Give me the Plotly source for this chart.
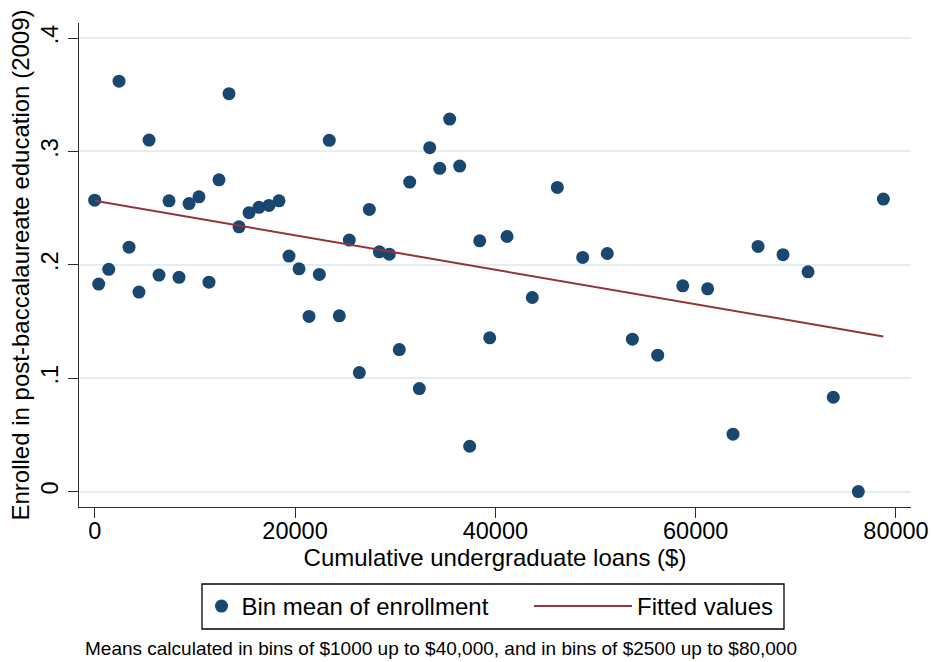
import plotly.graph_objects as go

# ---- data ----
loan_bin_mean = [0, 400, 1400, 2430, 3430, 4420, 5430, 6420, 7420, 8420,
                 9420, 10410, 11410, 12410, 13410, 14410, 15410, 16400, 17400, 18400,
                 19400, 20400, 21400, 22430, 23420, 24420, 25420, 26420, 27420, 28420,
                 29410, 30410, 31450, 32410, 33450, 34450, 35440, 36440, 37440, 38440,
                 39440, 41170, 43690, 46190, 48720, 51180, 53680, 56210, 58710, 61200,
                 63730, 66230, 68720, 71220, 73740, 76240, 78740]
enroll_bin_mean = [0.257, 0.183, 0.196, 0.362, 0.2156, 0.176, 0.310, 0.191, 0.2565, 0.189,
                   0.254, 0.260, 0.1847, 0.275, 0.351, 0.2335, 0.246, 0.2507, 0.2524, 0.2565,
                   0.2077, 0.1965, 0.1545, 0.1915, 0.3098, 0.155, 0.2218, 0.105, 0.2489, 0.2115,
                   0.2094, 0.1253, 0.273, 0.0909, 0.3033, 0.2851, 0.3286, 0.2871, 0.040, 0.2212,
                   0.1356, 0.225, 0.1712, 0.2683, 0.2065, 0.210, 0.1344, 0.1203, 0.1815, 0.1788,
                   0.0506, 0.2162, 0.209, 0.1938, 0.0832, 0.000, 0.258]
fit_x = [0, 78740]
fit_y = [0.2565, 0.1368]

x_tickvals = [0, 20000, 40000, 60000, 80000]
x_ticktext = ["0", "20000", "40000", "60000", "80000"]
y_tickvals = [0, 0.1, 0.2, 0.3, 0.4]
y_ticktext = ["0", ".1", ".2", ".3", ".4"]

FONT = "Liberation Sans, Arial, sans-serif"
NAVY = "#1a476f"
MAROON = "#90353b"
AXIS = "#2b2b2b"
GRID = "#e5edf0"
FS = 23.5
FT = 24

fig = go.Figure()
fig.add_trace(go.Scatter(
    x=loan_bin_mean, y=enroll_bin_mean, mode="markers",
    name="Bin mean of enrollment",
    marker=dict(color=NAVY, size=13, line=dict(width=0)),
    legend="legend",
))
fig.add_trace(go.Scatter(
    x=fit_x, y=fit_y, mode="lines", name="Fitted values",
    line=dict(color=MAROON, width=2),
    legend="legend2",
))

L, R, T, B = 79, 22, 23, 155
W, H = 933, 662
pw, ph = W - L - R, H - T - B

def px_x(p):
    return (p - L) / pw

def px_y(p):
    return (H - B - p) / ph

fig.update_layout(
    width=W, height=H,
    margin=dict(l=L, r=R, t=T, b=B, autoexpand=False),
    paper_bgcolor="white", plot_bgcolor="white",
    font=dict(family=FONT, size=FS, color="black"),
    showlegend=True,
    legend=dict(orientation="h", x=px_x(201.5), xanchor="left",
                y=px_y(584), yanchor="top", borderwidth=0,
                bgcolor="rgba(0,0,0,0)", font=dict(size=FT),
                itemwidth=30),
    legend2=dict(orientation="h", x=px_x(529), xanchor="left",
                 y=px_y(584), yanchor="top", borderwidth=0,
                 bgcolor="rgba(0,0,0,0)", font=dict(size=FT),
                 itemwidth=98),
    xaxis=dict(
        range=[-1567, 81500], tickmode="array", tickvals=x_tickvals, ticktext=x_ticktext,
        ticks="outside", ticklen=10, tickwidth=1.3, tickcolor=AXIS,
        showline=True, linecolor=AXIS, linewidth=1.3, showgrid=False, zeroline=False,
        ticklabelstandoff=-7,
        title=dict(text="Cumulative undergraduate loans ($)", standoff=4,
                   font=dict(size=FT, family=FONT, color="black")),
        tickfont=dict(size=FS), automargin=False,
    ),
    yaxis=dict(
        range=[-0.01359, 0.4133], tickmode="array", tickvals=y_tickvals, ticktext=y_ticktext,
        ticks="outside", ticklen=10, tickwidth=1.3, tickcolor=AXIS, tickangle=-90,
        showline=True, linecolor=AXIS, linewidth=1.3, showgrid=True, gridcolor=GRID,
        gridwidth=1.5, zeroline=False,
        title=dict(text="Enrolled in post-baccalaureate education (2009)", standoff=1,
                   font=dict(size=FT, family=FONT, color="black")),
        tickfont=dict(size=FS), automargin=False,
    ),
    shapes=[dict(type="rect", xref="paper", yref="paper",
                 x0=px_x(202), x1=px_x(784), y0=px_y(584), y1=px_y(629),
                 line=dict(color="black", width=1.3), fillcolor="rgba(0,0,0,0)")],
    annotations=[dict(text="Means calculated in bins of $1000 up to $40,000, and in bins of $2500 up to $80,000",
                      xref="paper", yref="paper", x=px_x(82.7), y=px_y(648),
                      xanchor="left", yanchor="middle", showarrow=False,
                      font=dict(size=19, family=FONT, color="black"))],
)

fig.write_html("out.html")
